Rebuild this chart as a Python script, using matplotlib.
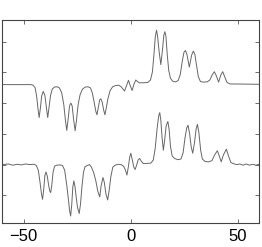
import matplotlib
matplotlib.use("Agg")
import matplotlib.pyplot as plt

# upper trace, offsets from its baseline
x_top = [-60, -46.5, -45.5, -44.6, -43.9, -43.3, -42.7, -42.1, -41.5, -40.8, -40.0, -39.3,
         -38.7, -38.1, -37.4, -36.6, -35.6, -34.3, -33.2, -32.2, -31.2, -30.4, -29.8, -29.2,
         -28.5, -27.9, -27.3, -26.6, -25.9, -25.3, -24.5, -23.6, -22.5, -21.2, -19.8, -18.7,
         -17.8, -16.9, -16.2, -15.7, -15.1, -14.4, -13.9, -13.3, -12.6, -12.0, -11.4, -10.6,
         -9.6, -8.4, -7.0, -5.5, -4.4, -3.5, -2.85, -2.1, -1.0, -0.2, 0.7, 1.5, 2.4, 3.2,
         4.0, 6.0, 8.0, 9.3, 10.2, 10.9, 11.5, 12.1, 12.6, 13.3, 14.1, 14.9, 15.5, 16.0,
         16.5, 17.1, 17.8, 18.6, 19.6, 21.0, 22.2, 23.2, 24.1, 24.9, 25.6, 26.3, 27.4, 28.5,
         29.3, 30.0, 30.8, 31.6, 32.6, 34.0, 35.8, 37.0, 38.2, 39.1, 40.0, 41.1, 42.1, 43.0,
         43.9, 45.0, 46.5, 50, 60]
y_top = [0, 0, -0.02, -0.10, -0.36, -0.75, -1.07, -0.75, -0.36, -0.22, -0.36, -0.75,
         -1.07, -0.75, -0.36, -0.15, -0.08, -0.07, -0.11, -0.26, -0.65, -1.18, -1.49, -1.14,
         -0.69, -0.60, -0.69, -1.14, -1.50, -1.18, -0.65, -0.33, -0.15, -0.08, -0.07, -0.11,
         -0.29, -0.62, -0.88, -0.98, -0.75, -0.49, -0.46, -0.56, -0.82, -0.98, -0.78, -0.46,
         -0.20, -0.07, -0.03, -0.02, -0.07, -0.15, -0.21, -0.07, 0.14, -0.03, -0.19, 0, 0.15, 0.10,
         0.06, 0.06, 0.07, 0.15, 0.42, 0.98, 1.54, 1.77, 1.57, 1.08, 0.65, 1.14, 1.60, 1.72,
         1.57, 0.98, 0.46, 0.21, 0.11, 0.09, 0.13, 0.33, 0.75, 1.05, 1.11, 0.98, 0.57, 0.96,
         1.09, 0.98, 0.62, 0.26, 0.10, 0.08, 0.09, 0.15, 0.33, 0.42, 0.29, 0.08, 0.31, 0.42,
         0.26, 0.07, 0.02, 0.02, 0.01]

# lower trace (noisier)
x_bot = [-60, -57, -55, -53, -51, -49, -47, -45, -44, -43.1, -42.3, -41.6, -41.1, -40.6,
         -40.0, -39.5, -38.9, -38.2, -37.7, -37.3, -36.8, -36.2, -35.5, -34.5, -33, -31.8,
         -30.8, -29.8, -29.0, -28.5, -28.0, -27.5, -27.0, -26.5, -26.0, -25.4, -24.8, -24.0,
         -23.4, -22.7, -22.0, -21.3, -20.2, -19.2, -18.3, -17.3, -16.3, -15.3, -14.4, -13.8,
         -12.9, -12.3, -11.5, -10.7, -10.0, -9.2, -8.3, -7.2, -5.8, -4.5, -3.3, -2.4, -1.7,
         -1.0, -0.4, 0.1, 0.8, 1.5, 2.1, 2.8, 3.5, 4.2, 5.0, 6.0, 8.0, 9.5, 10.6, 11.5, 12.4,
         13.1, 13.6, 14.1, 14.7, 15.3, 15.9, 16.6, 17.4, 18.0, 18.6, 19.4, 20.5, 22.0, 23.5,
         24.5, 25.4, 26.2, 26.8, 27.5, 28.3, 29.0, 29.8, 30.6, 31.2, 31.9, 32.7, 33.5, 34.8,
         36.5, 38.0, 39.2, 40.5, 41.4, 42.3, 43.3, 44.7, 45.7, 46.8, 48, 49.5, 51, 52.5, 54,
         55.5, 57, 58.5, 60]
y_bot = [0, 0.02, -0.02, 0.01, -0.01, 0.02, 0, 0.01, -0.03, -0.18, -0.57, -0.96, -1.13, -0.83,
         -0.34, -0.24, -0.38, -0.70, -0.87, -0.91, -0.67, -0.25, -0.05, -0.02, -0.01, -0.03,
         -0.18, -0.67, -1.16, -1.49, -1.67, -1.32, -0.74, -0.53, -0.70, -1.06, -1.39, -1.59,
         -1.29, -0.70, -0.25, -0.07, -0.03, 0, -0.08, -0.25, -0.51, -0.87, -1.05, -0.70,
         -0.42, -0.57, -0.96, -1.15, -0.83, -0.38, -0.08, -0.02, 0.01, 0, -0.05, -0.18, -0.34,
         -0.05, 0.25, 0.37, 0.15, -0.08, -0.16, -0.02, 0.15, 0.20, 0.11, 0.03, 0.04, 0.05, 0.15, 0.54, 1.19,
         1.58, 1.69, 1.45, 0.87, 0.47, 0.80, 1.26, 1.40, 1.13, 0.60, 0.28, 0.20, 0.16, 0.18,
         0.38, 0.87, 1.19, 1.28, 1.03, 0.57, 0.37, 0.70, 1.16, 1.31, 1.03, 0.47, 0.18, 0.10,
         0.09, 0.13, 0.31, 0.45, 0.28, 0.09, 0.31, 0.50, 0.28, 0.07, 0.03, 0, 0.02, -0.02, 0.02,
         -0.02, 0.01, -0.02, 0.01]

offset_top = 3.6
offset_bot = 1.0

fig = plt.figure(figsize=(2.62, 2.47), dpi=100)
ax = fig.add_axes([0.008, 0.097, 0.981, 0.822])

ax.plot(x_top, [v + offset_top for v in y_top], color='#666666', lw=0.7)
ax.plot(x_bot, [v + offset_bot for v in y_bot], color='#666666', lw=0.7)

ax.set_xlim(-60, 60)
ax.set_ylim(-0.9, 5.7)
ax.set_xticks([-50, 0, 50])
ax.set_yticks([0, 1, 2, 3, 4, 5])
ax.set_yticklabels([])
ax.tick_params(direction='in', length=3, width=0.6, top=True, right=True,
               labelsize=12, pad=4, color='#555555')
for lab in ax.get_xticklabels():
    lab.set_family(['Liberation Sans', 'DejaVu Sans'])
for s in ax.spines.values():
    s.set_linewidth(0.8)
    s.set_color('#444444')

fig.savefig('out.png', dpi=100)
